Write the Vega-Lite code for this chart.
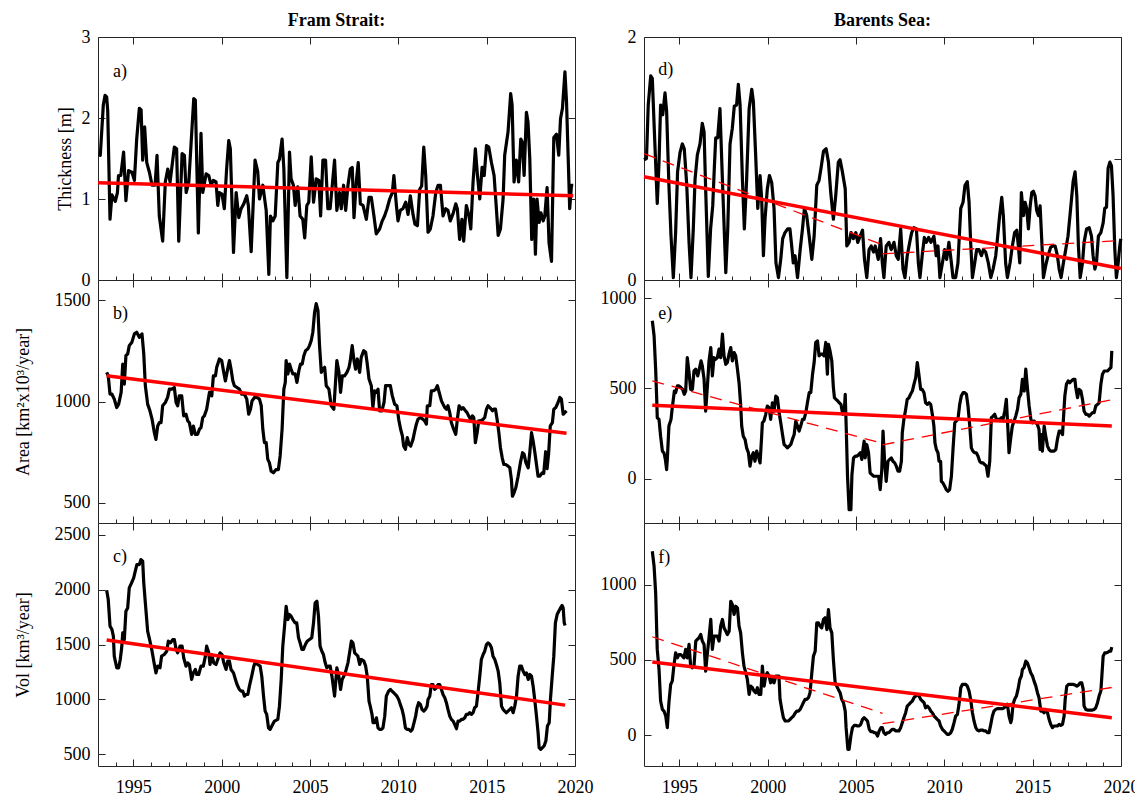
{
"$schema": "https://vega.github.io/schema/vega-lite/v6.json",
"background": "white",
"padding": {"left": 13, "top": 11, "right": 0, "bottom": 0},
"config": {
 "font": "Liberation Serif",
 "view": {"stroke": "#262626", "strokeWidth": 1},
 "axis": {"domain": false, "grid": false, "labelFont": "Liberation Serif", "titleFont": "Liberation Serif", "labelFontSize": 18, "titleFontSize": 18, "titleFontWeight": "normal", "labelColor": "#000", "titleColor": "#000", "tickColor": "#262626", "tickWidth": 1},
 "title": {"font": "Liberation Serif", "fontSize": 18, "fontWeight": "bold", "color": "#000", "offset": -2},
 "text": {"font": "Liberation Serif", "fontSize": 18, "color": "#000"}
},
"datasets": {
"a": [{"t":1993.04,"v":1.55},{"t":1993.13,"v":1.54},{"t":1993.3,"v":2.16},{"t":1993.4,"v":2.28},{"t":1993.49,"v":2.26},{"t":1993.55,"v":2.09},{"t":1993.68,"v":0.75},{"t":1993.79,"v":1.05},{"t":1993.98,"v":0.97},{"t":1994.1,"v":1.08},{"t":1994.16,"v":1.29},{"t":1994.29,"v":1.29},{"t":1994.45,"v":1.58},{"t":1994.58,"v":0.98},{"t":1994.73,"v":1.35},{"t":1994.92,"v":1.33},{"t":1995.06,"v":1.23},{"t":1995.19,"v":1.74},{"t":1995.34,"v":2.12},{"t":1995.44,"v":2.1},{"t":1995.53,"v":1.48},{"t":1995.64,"v":1.89},{"t":1995.76,"v":1.45},{"t":1995.91,"v":1.33},{"t":1996.06,"v":1.17},{"t":1996.23,"v":1.17},{"t":1996.34,"v":1.54},{"t":1996.47,"v":0.79},{"t":1996.66,"v":0.48},{"t":1996.81,"v":1.21},{"t":1996.95,"v":1.37},{"t":1997.08,"v":1.21},{"t":1997.32,"v":1.64},{"t":1997.45,"v":1.62},{"t":1997.57,"v":0.48},{"t":1997.76,"v":1.56},{"t":1997.89,"v":1.54},{"t":1997.99,"v":1.08},{"t":1998.14,"v":1.21},{"t":1998.42,"v":2.24},{"t":1998.51,"v":2.22},{"t":1998.68,"v":0.58},{"t":1998.83,"v":1.81},{"t":1998.93,"v":1.08},{"t":1999.12,"v":1.31},{"t":1999.27,"v":1.29},{"t":1999.4,"v":1.17},{"t":1999.53,"v":1.23},{"t":1999.68,"v":1.21},{"t":1999.78,"v":0.92},{"t":1999.87,"v":1.08},{"t":2000.02,"v":1.06},{"t":2000.15,"v":0.88},{"t":2000.28,"v":1.37},{"t":2000.4,"v":1.72},{"t":2000.49,"v":1.62},{"t":2000.67,"v":0.34},{"t":2000.82,"v":1.08},{"t":2000.97,"v":0.77},{"t":2001.1,"v":0.88},{"t":2001.25,"v":0.94},{"t":2001.42,"v":1.04},{"t":2001.51,"v":0.92},{"t":2001.67,"v":0.35},{"t":2001.89,"v":1.48},{"t":2002.04,"v":1.34},{"t":2002.14,"v":1.0},{"t":2002.33,"v":1.17},{"t":2002.52,"v":0.86},{"t":2002.67,"v":0.07},{"t":2002.76,"v":0.79},{"t":2002.9,"v":0.73},{"t":2003.03,"v":0.79},{"t":2003.18,"v":1.45},{"t":2003.27,"v":1.49},{"t":2003.42,"v":1.74},{"t":2003.52,"v":1.37},{"t":2003.69,"v":0.03},{"t":2003.84,"v":1.58},{"t":2003.93,"v":1.25},{"t":2004.06,"v":1.17},{"t":2004.16,"v":0.92},{"t":2004.31,"v":1.15},{"t":2004.44,"v":0.79},{"t":2004.59,"v":0.75},{"t":2004.7,"v":0.52},{"t":2004.82,"v":0.92},{"t":2004.93,"v":0.96},{"t":2005.07,"v":1.52},{"t":2005.2,"v":0.96},{"t":2005.35,"v":1.25},{"t":2005.5,"v":1.23},{"t":2005.6,"v":0.79},{"t":2005.73,"v":1.48},{"t":2005.88,"v":1.48},{"t":2006.01,"v":0.88},{"t":2006.14,"v":0.88},{"t":2006.39,"v":1.48},{"t":2006.52,"v":0.86},{"t":2006.67,"v":1.08},{"t":2006.77,"v":0.88},{"t":2006.9,"v":1.17},{"t":2007.02,"v":0.86},{"t":2007.15,"v":1.17},{"t":2007.28,"v":1.37},{"t":2007.39,"v":1.39},{"t":2007.49,"v":0.77},{"t":2007.62,"v":1.21},{"t":2007.73,"v":1.45},{"t":2007.85,"v":0.94},{"t":2008.0,"v":0.92},{"t":2008.19,"v":0.75},{"t":2008.34,"v":1.02},{"t":2008.47,"v":1.02},{"t":2008.62,"v":0.79},{"t":2008.75,"v":0.57},{"t":2008.94,"v":0.63},{"t":2009.09,"v":0.73},{"t":2009.22,"v":0.79},{"t":2009.36,"v":0.88},{"t":2009.51,"v":1.0},{"t":2009.66,"v":1.08},{"t":2009.75,"v":1.29},{"t":2009.89,"v":0.92},{"t":2009.98,"v":0.73},{"t":2010.11,"v":0.86},{"t":2010.26,"v":0.88},{"t":2010.42,"v":0.96},{"t":2010.55,"v":0.81},{"t":2010.68,"v":1.04},{"t":2010.83,"v":0.81},{"t":2010.94,"v":0.69},{"t":2011.08,"v":0.67},{"t":2011.21,"v":1.12},{"t":2011.32,"v":1.16},{"t":2011.44,"v":1.64},{"t":2011.55,"v":1.29},{"t":2011.68,"v":0.59},{"t":2011.81,"v":0.63},{"t":2011.96,"v":0.79},{"t":2012.12,"v":1.08},{"t":2012.25,"v":1.17},{"t":2012.38,"v":1.17},{"t":2012.53,"v":0.79},{"t":2012.68,"v":0.88},{"t":2012.81,"v":0.86},{"t":2012.94,"v":0.73},{"t":2013.1,"v":0.82},{"t":2013.25,"v":0.94},{"t":2013.34,"v":0.88},{"t":2013.47,"v":0.5},{"t":2013.6,"v":0.75},{"t":2013.7,"v":0.48},{"t":2013.85,"v":0.92},{"t":2014.0,"v":0.79},{"t":2014.1,"v":0.63},{"t":2014.23,"v":1.21},{"t":2014.36,"v":1.62},{"t":2014.48,"v":1.29},{"t":2014.61,"v":1.0},{"t":2014.74,"v":1.39},{"t":2014.86,"v":1.29},{"t":2014.99,"v":1.66},{"t":2015.12,"v":1.64},{"t":2015.27,"v":1.45},{"t":2015.42,"v":1.29},{"t":2015.55,"v":0.88},{"t":2015.65,"v":0.55},{"t":2015.78,"v":0.63},{"t":2015.93,"v":1.0},{"t":2016.02,"v":1.54},{"t":2016.21,"v":1.83},{"t":2016.36,"v":2.3},{"t":2016.44,"v":2.16},{"t":2016.55,"v":1.21},{"t":2016.68,"v":1.48},{"t":2016.81,"v":1.21},{"t":2016.93,"v":1.74},{"t":2017.02,"v":1.7},{"t":2017.12,"v":1.29},{"t":2017.25,"v":2.07},{"t":2017.34,"v":1.95},{"t":2017.44,"v":1.5},{"t":2017.55,"v":0.5},{"t":2017.66,"v":1.0},{"t":2017.76,"v":0.32},{"t":2017.85,"v":1.0},{"t":2017.97,"v":0.71},{"t":2018.07,"v":0.83},{"t":2018.2,"v":0.73},{"t":2018.29,"v":0.79},{"t":2018.42,"v":1.14},{"t":2018.53,"v":0.46},{"t":2018.67,"v":0.23},{"t":2018.8,"v":1.76},{"t":2018.95,"v":1.8},{"t":2019.08,"v":1.54},{"t":2019.18,"v":1.99},{"t":2019.29,"v":2.12},{"t":2019.43,"v":2.57},{"t":2019.52,"v":2.2},{"t":2019.61,"v":1.54},{"t":2019.7,"v":0.88},{"t":2019.8,"v":1.17},{"t":2019.9,"v":1.17}],
"b": [{"t":1993.49,"v":1144},{"t":1993.58,"v":1127},{"t":1993.68,"v":1036},{"t":1993.79,"v":1036},{"t":1993.92,"v":1012},{"t":1994.06,"v":970},{"t":1994.17,"v":987},{"t":1994.31,"v":1045},{"t":1994.4,"v":1185},{"t":1994.49,"v":1086},{"t":1994.58,"v":1226},{"t":1994.68,"v":1235},{"t":1994.77,"v":1276},{"t":1994.92,"v":1293},{"t":1995.06,"v":1334},{"t":1995.19,"v":1342},{"t":1995.34,"v":1317},{"t":1995.49,"v":1334},{"t":1995.59,"v":1235},{"t":1995.68,"v":1078},{"t":1995.81,"v":987},{"t":1995.94,"v":954},{"t":1996.06,"v":913},{"t":1996.19,"v":846},{"t":1996.28,"v":813},{"t":1996.38,"v":879},{"t":1996.47,"v":896},{"t":1996.57,"v":896},{"t":1996.66,"v":979},{"t":1996.81,"v":995},{"t":1996.94,"v":1020},{"t":1997.04,"v":1061},{"t":1997.17,"v":1061},{"t":1997.32,"v":1069},{"t":1997.42,"v":995},{"t":1997.51,"v":979},{"t":1997.6,"v":1028},{"t":1997.74,"v":1028},{"t":1997.85,"v":929},{"t":1997.98,"v":937},{"t":1998.08,"v":904},{"t":1998.17,"v":896},{"t":1998.3,"v":838},{"t":1998.4,"v":879},{"t":1998.51,"v":838},{"t":1998.64,"v":838},{"t":1998.74,"v":863},{"t":1998.83,"v":871},{"t":1998.93,"v":921},{"t":1999.02,"v":929},{"t":1999.15,"v":962},{"t":1999.31,"v":1045},{"t":1999.44,"v":1028},{"t":1999.53,"v":1127},{"t":1999.65,"v":1127},{"t":1999.72,"v":1169},{"t":1999.87,"v":1210},{"t":2000.0,"v":1202},{"t":2000.1,"v":1152},{"t":2000.21,"v":1102},{"t":2000.34,"v":1160},{"t":2000.44,"v":1202},{"t":2000.53,"v":1160},{"t":2000.63,"v":1102},{"t":2000.72,"v":1078},{"t":2000.87,"v":1069},{"t":2001.0,"v":1061},{"t":2001.14,"v":1036},{"t":2001.29,"v":1036},{"t":2001.42,"v":1012},{"t":2001.53,"v":937},{"t":2001.63,"v":962},{"t":2001.72,"v":1003},{"t":2001.86,"v":1020},{"t":2001.99,"v":1020},{"t":2002.14,"v":1012},{"t":2002.24,"v":979},{"t":2002.33,"v":863},{"t":2002.42,"v":797},{"t":2002.52,"v":797},{"t":2002.61,"v":714},{"t":2002.7,"v":698},{"t":2002.8,"v":656},{"t":2002.93,"v":648},{"t":2003.08,"v":664},{"t":2003.21,"v":664},{"t":2003.31,"v":731},{"t":2003.42,"v":863},{"t":2003.52,"v":1061},{"t":2003.6,"v":1094},{"t":2003.65,"v":1202},{"t":2003.75,"v":1136},{"t":2003.84,"v":1185},{"t":2003.93,"v":1160},{"t":2004.03,"v":1136},{"t":2004.16,"v":1136},{"t":2004.26,"v":1094},{"t":2004.37,"v":1152},{"t":2004.46,"v":1185},{"t":2004.56,"v":1185},{"t":2004.65,"v":1226},{"t":2004.75,"v":1251},{"t":2004.88,"v":1260},{"t":2004.97,"v":1276},{"t":2005.07,"v":1301},{"t":2005.16,"v":1342},{"t":2005.26,"v":1441},{"t":2005.35,"v":1483},{"t":2005.45,"v":1450},{"t":2005.54,"v":1276},{"t":2005.64,"v":1144},{"t":2005.73,"v":1160},{"t":2005.83,"v":1169},{"t":2005.92,"v":1078},{"t":2006.07,"v":1061},{"t":2006.2,"v":979},{"t":2006.35,"v":962},{"t":2006.52,"v":1202},{"t":2006.64,"v":1144},{"t":2006.73,"v":1045},{"t":2006.83,"v":1127},{"t":2006.96,"v":1127},{"t":2007.09,"v":1144},{"t":2007.21,"v":1169},{"t":2007.28,"v":1202},{"t":2007.39,"v":1276},{"t":2007.49,"v":1202},{"t":2007.58,"v":1160},{"t":2007.68,"v":1210},{"t":2007.81,"v":1144},{"t":2007.9,"v":1218},{"t":2008.04,"v":1251},{"t":2008.15,"v":1243},{"t":2008.23,"v":1193},{"t":2008.34,"v":1111},{"t":2008.47,"v":1078},{"t":2008.56,"v":970},{"t":2008.66,"v":1053},{"t":2008.75,"v":1045},{"t":2008.85,"v":1061},{"t":2008.94,"v":954},{"t":2009.07,"v":954},{"t":2009.19,"v":995},{"t":2009.28,"v":1078},{"t":2009.41,"v":1078},{"t":2009.55,"v":1078},{"t":2009.66,"v":1028},{"t":2009.79,"v":987},{"t":2009.92,"v":979},{"t":2010.02,"v":912},{"t":2010.13,"v":863},{"t":2010.23,"v":830},{"t":2010.3,"v":780},{"t":2010.4,"v":764},{"t":2010.51,"v":822},{"t":2010.6,"v":788},{"t":2010.7,"v":780},{"t":2010.83,"v":813},{"t":2010.93,"v":855},{"t":2011.02,"v":888},{"t":2011.11,"v":912},{"t":2011.25,"v":921},{"t":2011.4,"v":912},{"t":2011.49,"v":904},{"t":2011.59,"v":888},{"t":2011.64,"v":979},{"t":2011.78,"v":979},{"t":2011.87,"v":1053},{"t":2012.0,"v":1053},{"t":2012.12,"v":1061},{"t":2012.21,"v":1078},{"t":2012.34,"v":1036},{"t":2012.44,"v":1003},{"t":2012.53,"v":987},{"t":2012.63,"v":970},{"t":2012.72,"v":962},{"t":2012.81,"v":979},{"t":2012.91,"v":945},{"t":2013.0,"v":896},{"t":2013.13,"v":863},{"t":2013.25,"v":838},{"t":2013.34,"v":912},{"t":2013.44,"v":979},{"t":2013.57,"v":962},{"t":2013.66,"v":970},{"t":2013.8,"v":954},{"t":2013.89,"v":945},{"t":2013.98,"v":929},{"t":2014.08,"v":912},{"t":2014.19,"v":929},{"t":2014.27,"v":921},{"t":2014.36,"v":797},{"t":2014.46,"v":846},{"t":2014.55,"v":904},{"t":2014.65,"v":904},{"t":2014.8,"v":912},{"t":2014.89,"v":921},{"t":2014.99,"v":962},{"t":2015.08,"v":979},{"t":2015.18,"v":970},{"t":2015.33,"v":954},{"t":2015.4,"v":962},{"t":2015.5,"v":962},{"t":2015.59,"v":912},{"t":2015.69,"v":846},{"t":2015.78,"v":772},{"t":2015.88,"v":722},{"t":2015.97,"v":689},{"t":2016.08,"v":689},{"t":2016.21,"v":681},{"t":2016.31,"v":673},{"t":2016.4,"v":615},{"t":2016.46,"v":532},{"t":2016.55,"v":549},{"t":2016.65,"v":574},{"t":2016.78,"v":631},{"t":2016.91,"v":698},{"t":2017.03,"v":747},{"t":2017.12,"v":739},{"t":2017.22,"v":698},{"t":2017.35,"v":673},{"t":2017.44,"v":747},{"t":2017.54,"v":846},{"t":2017.63,"v":805},{"t":2017.73,"v":747},{"t":2017.82,"v":689},{"t":2017.91,"v":631},{"t":2018.01,"v":631},{"t":2018.14,"v":648},{"t":2018.23,"v":645},{"t":2018.34,"v":752},{"t":2018.42,"v":668},{"t":2018.51,"v":747},{"t":2018.6,"v":879},{"t":2018.72,"v":896},{"t":2018.8,"v":962},{"t":2018.91,"v":970},{"t":2019.04,"v":995},{"t":2019.14,"v":1020},{"t":2019.23,"v":1012},{"t":2019.33,"v":937},{"t":2019.42,"v":945},{"t":2019.52,"v":954}],
"c": [{"t":1993.49,"v":1994},{"t":1993.58,"v":1909},{"t":1993.68,"v":1667},{"t":1993.79,"v":1636},{"t":1993.87,"v":1576},{"t":1993.92,"v":1394},{"t":1994.06,"v":1288},{"t":1994.17,"v":1288},{"t":1994.26,"v":1364},{"t":1994.34,"v":1470},{"t":1994.4,"v":1606},{"t":1994.49,"v":1545},{"t":1994.58,"v":1803},{"t":1994.68,"v":1833},{"t":1994.77,"v":2015},{"t":1994.9,"v":2061},{"t":1995.02,"v":2106},{"t":1995.11,"v":2167},{"t":1995.2,"v":2227},{"t":1995.34,"v":2227},{"t":1995.43,"v":2273},{"t":1995.53,"v":2258},{"t":1995.59,"v":2061},{"t":1995.68,"v":1879},{"t":1995.81,"v":1621},{"t":1995.94,"v":1530},{"t":1996.06,"v":1439},{"t":1996.19,"v":1318},{"t":1996.28,"v":1242},{"t":1996.38,"v":1303},{"t":1996.51,"v":1288},{"t":1996.6,"v":1394},{"t":1996.75,"v":1409},{"t":1996.89,"v":1439},{"t":1996.98,"v":1530},{"t":1997.1,"v":1515},{"t":1997.23,"v":1545},{"t":1997.32,"v":1545},{"t":1997.42,"v":1455},{"t":1997.51,"v":1424},{"t":1997.64,"v":1485},{"t":1997.76,"v":1485},{"t":1997.85,"v":1379},{"t":1997.98,"v":1303},{"t":1998.08,"v":1333},{"t":1998.17,"v":1318},{"t":1998.3,"v":1182},{"t":1998.4,"v":1242},{"t":1998.51,"v":1273},{"t":1998.59,"v":1227},{"t":1998.7,"v":1227},{"t":1998.83,"v":1303},{"t":1998.96,"v":1303},{"t":1999.08,"v":1394},{"t":1999.15,"v":1485},{"t":1999.27,"v":1424},{"t":1999.34,"v":1318},{"t":1999.44,"v":1409},{"t":1999.55,"v":1333},{"t":1999.68,"v":1318},{"t":1999.78,"v":1364},{"t":1999.91,"v":1424},{"t":2000.02,"v":1409},{"t":2000.12,"v":1333},{"t":2000.25,"v":1273},{"t":2000.34,"v":1348},{"t":2000.44,"v":1348},{"t":2000.53,"v":1273},{"t":2000.67,"v":1242},{"t":2000.78,"v":1182},{"t":2000.87,"v":1136},{"t":2001.0,"v":1091},{"t":2001.1,"v":1076},{"t":2001.19,"v":1076},{"t":2001.29,"v":1030},{"t":2001.38,"v":1045},{"t":2001.48,"v":1045},{"t":2001.57,"v":1121},{"t":2001.7,"v":1212},{"t":2001.82,"v":1303},{"t":2001.89,"v":1333},{"t":2002.04,"v":1318},{"t":2002.18,"v":1303},{"t":2002.27,"v":1212},{"t":2002.37,"v":1030},{"t":2002.46,"v":894},{"t":2002.55,"v":864},{"t":2002.65,"v":742},{"t":2002.74,"v":727},{"t":2002.84,"v":758},{"t":2002.99,"v":803},{"t":2003.18,"v":818},{"t":2003.27,"v":939},{"t":2003.37,"v":1182},{"t":2003.46,"v":1485},{"t":2003.56,"v":1667},{"t":2003.65,"v":1848},{"t":2003.75,"v":1727},{"t":2003.84,"v":1773},{"t":2003.93,"v":1758},{"t":2004.03,"v":1727},{"t":2004.16,"v":1697},{"t":2004.25,"v":1697},{"t":2004.35,"v":1561},{"t":2004.44,"v":1515},{"t":2004.54,"v":1455},{"t":2004.63,"v":1455},{"t":2004.74,"v":1500},{"t":2004.84,"v":1530},{"t":2004.97,"v":1545},{"t":2005.1,"v":1561},{"t":2005.2,"v":1697},{"t":2005.29,"v":1879},{"t":2005.39,"v":1894},{"t":2005.48,"v":1758},{"t":2005.57,"v":1485},{"t":2005.67,"v":1439},{"t":2005.76,"v":1409},{"t":2005.86,"v":1333},{"t":2005.95,"v":1288},{"t":2006.05,"v":1303},{"t":2006.14,"v":1303},{"t":2006.24,"v":1212},{"t":2006.39,"v":1030},{"t":2006.52,"v":1288},{"t":2006.63,"v":1212},{"t":2006.73,"v":1091},{"t":2006.82,"v":1182},{"t":2006.96,"v":1227},{"t":2007.05,"v":1273},{"t":2007.15,"v":1333},{"t":2007.24,"v":1424},{"t":2007.34,"v":1530},{"t":2007.43,"v":1515},{"t":2007.53,"v":1424},{"t":2007.62,"v":1409},{"t":2007.71,"v":1394},{"t":2007.81,"v":1318},{"t":2007.9,"v":1364},{"t":2008.05,"v":1348},{"t":2008.15,"v":1303},{"t":2008.24,"v":1212},{"t":2008.34,"v":985},{"t":2008.41,"v":939},{"t":2008.51,"v":864},{"t":2008.57,"v":788},{"t":2008.66,"v":788},{"t":2008.76,"v":833},{"t":2008.85,"v":742},{"t":2008.94,"v":727},{"t":2009.04,"v":727},{"t":2009.13,"v":742},{"t":2009.23,"v":848},{"t":2009.32,"v":1030},{"t":2009.45,"v":1076},{"t":2009.55,"v":1091},{"t":2009.64,"v":1076},{"t":2009.74,"v":1061},{"t":2009.83,"v":1045},{"t":2009.92,"v":1030},{"t":2010.02,"v":1000},{"t":2010.11,"v":955},{"t":2010.21,"v":909},{"t":2010.3,"v":848},{"t":2010.4,"v":742},{"t":2010.49,"v":727},{"t":2010.6,"v":727},{"t":2010.7,"v":712},{"t":2010.79,"v":727},{"t":2010.89,"v":788},{"t":2010.98,"v":848},{"t":2011.06,"v":924},{"t":2011.15,"v":970},{"t":2011.25,"v":955},{"t":2011.34,"v":909},{"t":2011.44,"v":894},{"t":2011.53,"v":909},{"t":2011.63,"v":939},{"t":2011.68,"v":1000},{"t":2011.78,"v":1030},{"t":2011.87,"v":1136},{"t":2011.96,"v":1136},{"t":2012.06,"v":1091},{"t":2012.16,"v":1106},{"t":2012.25,"v":1136},{"t":2012.34,"v":1136},{"t":2012.44,"v":1091},{"t":2012.53,"v":1045},{"t":2012.63,"v":1015},{"t":2012.72,"v":970},{"t":2012.81,"v":909},{"t":2012.91,"v":848},{"t":2013.0,"v":818},{"t":2013.1,"v":803},{"t":2013.19,"v":773},{"t":2013.29,"v":733},{"t":2013.38,"v":803},{"t":2013.48,"v":803},{"t":2013.57,"v":818},{"t":2013.66,"v":818},{"t":2013.76,"v":833},{"t":2013.85,"v":864},{"t":2013.95,"v":864},{"t":2014.04,"v":879},{"t":2014.14,"v":864},{"t":2014.23,"v":879},{"t":2014.32,"v":924},{"t":2014.42,"v":939},{"t":2014.51,"v":1061},{"t":2014.61,"v":1212},{"t":2014.7,"v":1364},{"t":2014.8,"v":1409},{"t":2014.89,"v":1439},{"t":2014.99,"v":1500},{"t":2015.08,"v":1515},{"t":2015.18,"v":1500},{"t":2015.27,"v":1470},{"t":2015.36,"v":1394},{"t":2015.46,"v":1364},{"t":2015.55,"v":1318},{"t":2015.65,"v":1258},{"t":2015.74,"v":1152},{"t":2015.84,"v":939},{"t":2015.93,"v":909},{"t":2016.02,"v":894},{"t":2016.12,"v":879},{"t":2016.21,"v":894},{"t":2016.31,"v":909},{"t":2016.4,"v":924},{"t":2016.5,"v":879},{"t":2016.59,"v":939},{"t":2016.69,"v":1030},{"t":2016.78,"v":1212},{"t":2016.87,"v":1303},{"t":2016.97,"v":1303},{"t":2017.06,"v":1258},{"t":2017.16,"v":1227},{"t":2017.25,"v":1242},{"t":2017.35,"v":1182},{"t":2017.44,"v":1227},{"t":2017.54,"v":1212},{"t":2017.63,"v":1121},{"t":2017.73,"v":985},{"t":2017.82,"v":848},{"t":2017.91,"v":697},{"t":2017.97,"v":561},{"t":2018.06,"v":545},{"t":2018.16,"v":561},{"t":2018.25,"v":576},{"t":2018.35,"v":621},{"t":2018.44,"v":758},{"t":2018.54,"v":788},{"t":2018.61,"v":1000},{"t":2018.71,"v":1212},{"t":2018.8,"v":1394},{"t":2018.89,"v":1697},{"t":2018.99,"v":1773},{"t":2019.08,"v":1803},{"t":2019.18,"v":1833},{"t":2019.27,"v":1855},{"t":2019.33,"v":1833},{"t":2019.39,"v":1697},{"t":2019.44,"v":1673}],
"d": [{"t":1993.0,"v":0.99},{"t":1993.14,"v":1.0},{"t":1993.24,"v":1.44},{"t":1993.38,"v":1.68},{"t":1993.47,"v":1.66},{"t":1993.58,"v":1.25},{"t":1993.75,"v":0.63},{"t":1993.85,"v":0.97},{"t":1993.94,"v":1.44},{"t":1994.06,"v":1.36},{"t":1994.19,"v":1.54},{"t":1994.28,"v":1.39},{"t":1994.41,"v":0.78},{"t":1994.53,"v":0.36},{"t":1994.66,"v":0.02},{"t":1994.79,"v":0.39},{"t":1994.9,"v":0.89},{"t":1995.04,"v":1.05},{"t":1995.17,"v":1.12},{"t":1995.28,"v":1.08},{"t":1995.42,"v":0.78},{"t":1995.55,"v":0.31},{"t":1995.66,"v":0.02},{"t":1995.79,"v":0.42},{"t":1995.89,"v":0.83},{"t":1996.02,"v":1.03},{"t":1996.17,"v":1.12},{"t":1996.3,"v":1.29},{"t":1996.4,"v":1.22},{"t":1996.49,"v":0.75},{"t":1996.64,"v":0.03},{"t":1996.77,"v":0.42},{"t":1996.89,"v":0.61},{"t":1996.98,"v":0.92},{"t":1997.06,"v":1.17},{"t":1997.17,"v":1.17},{"t":1997.3,"v":1.41},{"t":1997.43,"v":0.86},{"t":1997.63,"v":0.06},{"t":1997.74,"v":0.42},{"t":1997.87,"v":1.12},{"t":1998.0,"v":1.25},{"t":1998.11,"v":1.43},{"t":1998.24,"v":1.44},{"t":1998.34,"v":1.61},{"t":1998.44,"v":1.44},{"t":1998.57,"v":0.83},{"t":1998.68,"v":0.42},{"t":1998.81,"v":0.83},{"t":1998.95,"v":1.41},{"t":1999.1,"v":1.57},{"t":1999.19,"v":1.47},{"t":1999.32,"v":1.03},{"t":1999.44,"v":0.59},{"t":1999.57,"v":0.86},{"t":1999.66,"v":0.67},{"t":1999.76,"v":0.2},{"t":1999.85,"v":0.5},{"t":1999.98,"v":0.75},{"t":2000.1,"v":0.86},{"t":2000.23,"v":0.8},{"t":2000.36,"v":0.59},{"t":2000.47,"v":0.14},{"t":2000.61,"v":0.02},{"t":2000.74,"v":0.17},{"t":2000.85,"v":0.34},{"t":2000.98,"v":0.39},{"t":2001.13,"v":0.42},{"t":2001.26,"v":0.42},{"t":2001.36,"v":0.28},{"t":2001.45,"v":0.14},{"t":2001.55,"v":0.2},{"t":2001.69,"v":0.02},{"t":2001.84,"v":0.25},{"t":2001.97,"v":0.42},{"t":2002.08,"v":0.59},{"t":2002.21,"v":0.53},{"t":2002.35,"v":0.36},{"t":2002.5,"v":0.17},{"t":2002.63,"v":0.36},{"t":2002.78,"v":0.78},{"t":2002.91,"v":0.82},{"t":2003.02,"v":0.92},{"t":2003.16,"v":1.06},{"t":2003.31,"v":1.08},{"t":2003.44,"v":0.97},{"t":2003.57,"v":0.72},{"t":2003.72,"v":0.5},{"t":2003.85,"v":0.69},{"t":2004.0,"v":0.97},{"t":2004.1,"v":0.99},{"t":2004.23,"v":0.89},{"t":2004.39,"v":0.75},{"t":2004.48,"v":0.28},{"t":2004.61,"v":0.31},{"t":2004.72,"v":0.39},{"t":2004.85,"v":0.34},{"t":2004.99,"v":0.39},{"t":2005.1,"v":0.31},{"t":2005.23,"v":0.36},{"t":2005.37,"v":0.41},{"t":2005.48,"v":0.17},{"t":2005.61,"v":0.02},{"t":2005.74,"v":0.25},{"t":2005.86,"v":0.28},{"t":2005.99,"v":0.23},{"t":2006.09,"v":0.28},{"t":2006.26,"v":0.17},{"t":2006.39,"v":0.34},{"t":2006.49,"v":0.14},{"t":2006.58,"v":0.02},{"t":2006.71,"v":0.28},{"t":2006.86,"v":0.31},{"t":2006.99,"v":0.25},{"t":2007.15,"v":0.31},{"t":2007.28,"v":0.2},{"t":2007.39,"v":0.17},{"t":2007.53,"v":0.42},{"t":2007.66,"v":0.09},{"t":2007.77,"v":0.02},{"t":2007.9,"v":0.2},{"t":2008.04,"v":0.31},{"t":2008.15,"v":0.39},{"t":2008.28,"v":0.43},{"t":2008.42,"v":0.42},{"t":2008.53,"v":0.14},{"t":2008.62,"v":0.02},{"t":2008.76,"v":0.22},{"t":2008.87,"v":0.35},{"t":2008.98,"v":0.31},{"t":2009.11,"v":0.35},{"t":2009.24,"v":0.31},{"t":2009.41,"v":0.36},{"t":2009.54,"v":0.2},{"t":2009.64,"v":0.28},{"t":2009.75,"v":0.02},{"t":2009.89,"v":0.14},{"t":2010.02,"v":0.25},{"t":2010.13,"v":0.17},{"t":2010.26,"v":0.31},{"t":2010.4,"v":0.14},{"t":2010.49,"v":0.02},{"t":2010.64,"v":0.02},{"t":2010.77,"v":0.14},{"t":2010.93,"v":0.59},{"t":2011.06,"v":0.64},{"t":2011.17,"v":0.78},{"t":2011.3,"v":0.81},{"t":2011.4,"v":0.64},{"t":2011.49,"v":0.31},{"t":2011.59,"v":0.02},{"t":2011.72,"v":0.14},{"t":2011.83,"v":0.25},{"t":2011.96,"v":0.25},{"t":2012.1,"v":0.2},{"t":2012.21,"v":0.25},{"t":2012.34,"v":0.23},{"t":2012.49,"v":0.14},{"t":2012.63,"v":0.02},{"t":2012.76,"v":0.09},{"t":2012.91,"v":0.2},{"t":2013.04,"v":0.39},{"t":2013.13,"v":0.53},{"t":2013.25,"v":0.68},{"t":2013.34,"v":0.53},{"t":2013.47,"v":0.14},{"t":2013.57,"v":0.02},{"t":2013.72,"v":0.14},{"t":2013.85,"v":0.28},{"t":2013.98,"v":0.39},{"t":2014.1,"v":0.41},{"t":2014.19,"v":0.28},{"t":2014.27,"v":0.14},{"t":2014.36,"v":0.72},{"t":2014.48,"v":0.53},{"t":2014.57,"v":0.64},{"t":2014.66,"v":0.59},{"t":2014.76,"v":0.42},{"t":2014.86,"v":0.61},{"t":2014.95,"v":0.72},{"t":2015.04,"v":0.73},{"t":2015.14,"v":0.69},{"t":2015.23,"v":0.57},{"t":2015.33,"v":0.53},{"t":2015.42,"v":0.61},{"t":2015.51,"v":0.34},{"t":2015.61,"v":0.02},{"t":2015.74,"v":0.12},{"t":2015.87,"v":0.2},{"t":2016.02,"v":0.27},{"t":2016.15,"v":0.28},{"t":2016.27,"v":0.28},{"t":2016.4,"v":0.2},{"t":2016.5,"v":0.09},{"t":2016.61,"v":0.02},{"t":2016.74,"v":0.14},{"t":2016.87,"v":0.25},{"t":2017.0,"v":0.36},{"t":2017.15,"v":0.59},{"t":2017.29,"v":0.81},{"t":2017.4,"v":0.89},{"t":2017.5,"v":0.69},{"t":2017.59,"v":0.28},{"t":2017.69,"v":0.02},{"t":2017.82,"v":0.14},{"t":2017.91,"v":0.31},{"t":2018.05,"v":0.42},{"t":2018.2,"v":0.43},{"t":2018.33,"v":0.36},{"t":2018.42,"v":0.2},{"t":2018.52,"v":0.09},{"t":2018.61,"v":0.14},{"t":2018.72,"v":0.36},{"t":2018.86,"v":0.39},{"t":2018.99,"v":0.47},{"t":2019.08,"v":0.59},{"t":2019.18,"v":0.6},{"t":2019.27,"v":0.92},{"t":2019.37,"v":0.97},{"t":2019.46,"v":0.94},{"t":2019.55,"v":0.7},{"t":2019.65,"v":0.25},{"t":2019.74,"v":0.02},{"t":2019.84,"v":0.14},{"t":2019.93,"v":0.28},{"t":2019.99,"v":0.34}],
"e": [{"t":1993.47,"v":874},{"t":1993.57,"v":791},{"t":1993.66,"v":606},{"t":1993.72,"v":439},{"t":1993.75,"v":337},{"t":1993.85,"v":328},{"t":1993.94,"v":235},{"t":1994.04,"v":152},{"t":1994.13,"v":143},{"t":1994.21,"v":106},{"t":1994.28,"v":50},{"t":1994.32,"v":106},{"t":1994.41,"v":291},{"t":1994.53,"v":328},{"t":1994.6,"v":393},{"t":1994.72,"v":485},{"t":1994.79,"v":476},{"t":1994.89,"v":513},{"t":1994.98,"v":513},{"t":1995.09,"v":504},{"t":1995.19,"v":494},{"t":1995.28,"v":467},{"t":1995.36,"v":485},{"t":1995.45,"v":670},{"t":1995.55,"v":587},{"t":1995.64,"v":494},{"t":1995.74,"v":494},{"t":1995.83,"v":596},{"t":1995.93,"v":606},{"t":1996.04,"v":569},{"t":1996.13,"v":606},{"t":1996.23,"v":652},{"t":1996.3,"v":624},{"t":1996.4,"v":550},{"t":1996.49,"v":374},{"t":1996.59,"v":513},{"t":1996.68,"v":652},{"t":1996.78,"v":726},{"t":1996.87,"v":569},{"t":1996.96,"v":670},{"t":1997.06,"v":661},{"t":1997.15,"v":670},{"t":1997.25,"v":717},{"t":1997.34,"v":670},{"t":1997.44,"v":800},{"t":1997.53,"v":680},{"t":1997.63,"v":633},{"t":1997.72,"v":643},{"t":1997.81,"v":689},{"t":1997.91,"v":726},{"t":1998.0,"v":652},{"t":1998.1,"v":698},{"t":1998.19,"v":680},{"t":1998.29,"v":606},{"t":1998.38,"v":531},{"t":1998.47,"v":411},{"t":1998.53,"v":291},{"t":1998.62,"v":235},{"t":1998.72,"v":217},{"t":1998.81,"v":170},{"t":1998.91,"v":143},{"t":1999.0,"v":69},{"t":1999.1,"v":124},{"t":1999.19,"v":143},{"t":1999.28,"v":96},{"t":1999.38,"v":152},{"t":1999.47,"v":124},{"t":1999.57,"v":87},{"t":1999.66,"v":235},{"t":1999.7,"v":309},{"t":1999.79,"v":319},{"t":1999.89,"v":356},{"t":1999.98,"v":402},{"t":2000.08,"v":393},{"t":2000.17,"v":328},{"t":2000.27,"v":420},{"t":2000.36,"v":374},{"t":2000.46,"v":457},{"t":2000.55,"v":448},{"t":2000.65,"v":365},{"t":2000.74,"v":309},{"t":2000.84,"v":244},{"t":2000.93,"v":189},{"t":2001.03,"v":180},{"t":2001.12,"v":170},{"t":2001.22,"v":180},{"t":2001.31,"v":189},{"t":2001.4,"v":217},{"t":2001.5,"v":244},{"t":2001.59,"v":318},{"t":2001.69,"v":291},{"t":2001.78,"v":263},{"t":2001.87,"v":291},{"t":2001.97,"v":328},{"t":2002.06,"v":328},{"t":2002.16,"v":365},{"t":2002.25,"v":420},{"t":2002.35,"v":476},{"t":2002.44,"v":476},{"t":2002.54,"v":578},{"t":2002.63,"v":643},{"t":2002.72,"v":754},{"t":2002.82,"v":763},{"t":2002.91,"v":680},{"t":2003.0,"v":689},{"t":2003.1,"v":689},{"t":2003.19,"v":680},{"t":2003.29,"v":754},{"t":2003.38,"v":578},{"t":2003.44,"v":744},{"t":2003.53,"v":707},{"t":2003.63,"v":652},{"t":2003.72,"v":504},{"t":2003.78,"v":448},{"t":2003.87,"v":439},{"t":2003.97,"v":430},{"t":2004.05,"v":420},{"t":2004.15,"v":411},{"t":2004.25,"v":356},{"t":2004.34,"v":374},{"t":2004.39,"v":467},{"t":2004.45,"v":272},{"t":2004.52,"v":13},{"t":2004.61,"v":-172},{"t":2004.71,"v":-172},{"t":2004.77,"v":22},{"t":2004.86,"v":115},{"t":2004.96,"v":124},{"t":2005.05,"v":124},{"t":2005.15,"v":133},{"t":2005.24,"v":143},{"t":2005.33,"v":106},{"t":2005.37,"v":143},{"t":2005.46,"v":207},{"t":2005.52,"v":115},{"t":2005.61,"v":189},{"t":2005.71,"v":143},{"t":2005.8,"v":31},{"t":2005.9,"v":22},{"t":2005.99,"v":13},{"t":2006.09,"v":13},{"t":2006.18,"v":13},{"t":2006.28,"v":13},{"t":2006.37,"v":-61},{"t":2006.46,"v":50},{"t":2006.53,"v":263},{"t":2006.62,"v":96},{"t":2006.71,"v":-15},{"t":2006.81,"v":96},{"t":2006.9,"v":106},{"t":2007.0,"v":115},{"t":2007.09,"v":96},{"t":2007.19,"v":87},{"t":2007.28,"v":69},{"t":2007.38,"v":41},{"t":2007.47,"v":41},{"t":2007.57,"v":96},{"t":2007.62,"v":254},{"t":2007.71,"v":328},{"t":2007.81,"v":383},{"t":2007.9,"v":439},{"t":2008.0,"v":448},{"t":2008.09,"v":467},{"t":2008.19,"v":485},{"t":2008.28,"v":522},{"t":2008.38,"v":559},{"t":2008.47,"v":643},{"t":2008.57,"v":569},{"t":2008.66,"v":494},{"t":2008.75,"v":494},{"t":2008.85,"v":476},{"t":2008.94,"v":420},{"t":2009.04,"v":411},{"t":2009.13,"v":420},{"t":2009.23,"v":411},{"t":2009.32,"v":356},{"t":2009.41,"v":291},{"t":2009.47,"v":198},{"t":2009.55,"v":161},{"t":2009.64,"v":143},{"t":2009.7,"v":96},{"t":2009.79,"v":96},{"t":2009.83,"v":-15},{"t":2009.92,"v":-24},{"t":2010.02,"v":-43},{"t":2010.11,"v":-61},{"t":2010.21,"v":-70},{"t":2010.3,"v":-61},{"t":2010.4,"v":13},{"t":2010.49,"v":161},{"t":2010.59,"v":309},{"t":2010.68,"v":319},{"t":2010.77,"v":328},{"t":2010.87,"v":411},{"t":2010.96,"v":457},{"t":2011.06,"v":476},{"t":2011.15,"v":476},{"t":2011.25,"v":467},{"t":2011.34,"v":402},{"t":2011.44,"v":291},{"t":2011.53,"v":170},{"t":2011.62,"v":152},{"t":2011.72,"v":143},{"t":2011.81,"v":143},{"t":2011.91,"v":124},{"t":2012.0,"v":96},{"t":2012.09,"v":87},{"t":2012.19,"v":87},{"t":2012.28,"v":78},{"t":2012.38,"v":69},{"t":2012.47,"v":13},{"t":2012.57,"v":96},{"t":2012.66,"v":337},{"t":2012.76,"v":346},{"t":2012.85,"v":356},{"t":2012.95,"v":328},{"t":2013.04,"v":328},{"t":2013.13,"v":328},{"t":2013.23,"v":337},{"t":2013.32,"v":328},{"t":2013.42,"v":374},{"t":2013.51,"v":439},{"t":2013.6,"v":272},{"t":2013.66,"v":143},{"t":2013.76,"v":226},{"t":2013.85,"v":291},{"t":2013.95,"v":319},{"t":2014.04,"v":346},{"t":2014.14,"v":383},{"t":2014.23,"v":448},{"t":2014.33,"v":467},{"t":2014.42,"v":550},{"t":2014.52,"v":485},{"t":2014.61,"v":606},{"t":2014.71,"v":494},{"t":2014.8,"v":402},{"t":2014.9,"v":328},{"t":2014.99,"v":309},{"t":2015.08,"v":319},{"t":2015.18,"v":309},{"t":2015.27,"v":300},{"t":2015.36,"v":272},{"t":2015.42,"v":161},{"t":2015.5,"v":244},{"t":2015.55,"v":152},{"t":2015.65,"v":291},{"t":2015.74,"v":235},{"t":2015.84,"v":180},{"t":2015.93,"v":161},{"t":2016.02,"v":152},{"t":2016.12,"v":152},{"t":2016.21,"v":152},{"t":2016.31,"v":161},{"t":2016.4,"v":217},{"t":2016.5,"v":263},{"t":2016.59,"v":263},{"t":2016.69,"v":244},{"t":2016.74,"v":328},{"t":2016.82,"v":457},{"t":2016.91,"v":522},{"t":2017.01,"v":541},{"t":2017.1,"v":531},{"t":2017.2,"v":541},{"t":2017.29,"v":550},{"t":2017.39,"v":550},{"t":2017.44,"v":504},{"t":2017.54,"v":448},{"t":2017.63,"v":494},{"t":2017.73,"v":485},{"t":2017.82,"v":439},{"t":2017.91,"v":374},{"t":2018.01,"v":356},{"t":2018.1,"v":356},{"t":2018.2,"v":346},{"t":2018.29,"v":356},{"t":2018.39,"v":365},{"t":2018.48,"v":365},{"t":2018.57,"v":402},{"t":2018.67,"v":411},{"t":2018.76,"v":420},{"t":2018.86,"v":522},{"t":2018.95,"v":578},{"t":2019.05,"v":596},{"t":2019.14,"v":596},{"t":2019.24,"v":596},{"t":2019.33,"v":606},{"t":2019.43,"v":615},{"t":2019.48,"v":707}],
"f": [{"t":1993.47,"v":1221},{"t":1993.57,"v":1122},{"t":1993.66,"v":945},{"t":1993.75,"v":569},{"t":1993.85,"v":436},{"t":1993.94,"v":226},{"t":1994.04,"v":170},{"t":1994.13,"v":159},{"t":1994.23,"v":126},{"t":1994.32,"v":49},{"t":1994.41,"v":215},{"t":1994.51,"v":336},{"t":1994.6,"v":358},{"t":1994.7,"v":469},{"t":1994.79,"v":546},{"t":1994.89,"v":513},{"t":1994.98,"v":535},{"t":1995.08,"v":535},{"t":1995.17,"v":524},{"t":1995.26,"v":513},{"t":1995.36,"v":569},{"t":1995.45,"v":513},{"t":1995.55,"v":602},{"t":1995.64,"v":458},{"t":1995.74,"v":447},{"t":1995.83,"v":458},{"t":1995.93,"v":624},{"t":1996.02,"v":635},{"t":1996.11,"v":646},{"t":1996.21,"v":668},{"t":1996.3,"v":624},{"t":1996.4,"v":602},{"t":1996.49,"v":425},{"t":1996.59,"v":546},{"t":1996.68,"v":646},{"t":1996.78,"v":768},{"t":1996.87,"v":569},{"t":1996.96,"v":657},{"t":1997.06,"v":657},{"t":1997.15,"v":657},{"t":1997.25,"v":624},{"t":1997.34,"v":723},{"t":1997.44,"v":768},{"t":1997.53,"v":712},{"t":1997.63,"v":690},{"t":1997.72,"v":668},{"t":1997.82,"v":690},{"t":1997.91,"v":889},{"t":1998.0,"v":867},{"t":1998.1,"v":801},{"t":1998.19,"v":856},{"t":1998.29,"v":845},{"t":1998.38,"v":723},{"t":1998.47,"v":679},{"t":1998.57,"v":546},{"t":1998.66,"v":458},{"t":1998.76,"v":414},{"t":1998.85,"v":369},{"t":1998.95,"v":270},{"t":1999.04,"v":325},{"t":1999.14,"v":314},{"t":1999.23,"v":292},{"t":1999.33,"v":281},{"t":1999.42,"v":314},{"t":1999.51,"v":270},{"t":1999.61,"v":270},{"t":1999.7,"v":458},{"t":1999.8,"v":325},{"t":1999.89,"v":392},{"t":1999.98,"v":414},{"t":2000.08,"v":392},{"t":2000.17,"v":347},{"t":2000.27,"v":369},{"t":2000.36,"v":347},{"t":2000.46,"v":392},{"t":2000.55,"v":392},{"t":2000.64,"v":392},{"t":2000.7,"v":237},{"t":2000.8,"v":170},{"t":2000.89,"v":115},{"t":2000.99,"v":93},{"t":2001.08,"v":93},{"t":2001.18,"v":93},{"t":2001.27,"v":104},{"t":2001.36,"v":115},{"t":2001.46,"v":126},{"t":2001.55,"v":144},{"t":2001.65,"v":159},{"t":2001.74,"v":159},{"t":2001.84,"v":170},{"t":2001.93,"v":192},{"t":2002.02,"v":215},{"t":2002.12,"v":237},{"t":2002.21,"v":237},{"t":2002.31,"v":248},{"t":2002.4,"v":281},{"t":2002.5,"v":414},{"t":2002.59,"v":524},{"t":2002.69,"v":557},{"t":2002.78,"v":746},{"t":2002.87,"v":746},{"t":2002.97,"v":723},{"t":2003.06,"v":712},{"t":2003.16,"v":768},{"t":2003.25,"v":779},{"t":2003.35,"v":701},{"t":2003.44,"v":834},{"t":2003.53,"v":712},{"t":2003.63,"v":679},{"t":2003.72,"v":502},{"t":2003.82,"v":347},{"t":2003.91,"v":325},{"t":2004.0,"v":303},{"t":2004.1,"v":281},{"t":2004.19,"v":237},{"t":2004.29,"v":215},{"t":2004.39,"v":159},{"t":2004.44,"v":49},{"t":2004.54,"v":-95},{"t":2004.61,"v":-95},{"t":2004.71,"v":-7},{"t":2004.8,"v":49},{"t":2004.9,"v":64},{"t":2004.99,"v":64},{"t":2005.09,"v":60},{"t":2005.18,"v":60},{"t":2005.27,"v":71},{"t":2005.37,"v":104},{"t":2005.46,"v":115},{"t":2005.56,"v":104},{"t":2005.65,"v":93},{"t":2005.75,"v":38},{"t":2005.84,"v":22},{"t":2005.93,"v":22},{"t":2006.03,"v":15},{"t":2006.12,"v":15},{"t":2006.22,"v":-7},{"t":2006.31,"v":27},{"t":2006.41,"v":49},{"t":2006.49,"v":49},{"t":2006.58,"v":15},{"t":2006.67,"v":4},{"t":2006.77,"v":15},{"t":2006.86,"v":15},{"t":2006.96,"v":27},{"t":2007.05,"v":38},{"t":2007.15,"v":38},{"t":2007.24,"v":27},{"t":2007.34,"v":27},{"t":2007.43,"v":27},{"t":2007.53,"v":49},{"t":2007.62,"v":82},{"t":2007.71,"v":115},{"t":2007.81,"v":148},{"t":2007.9,"v":192},{"t":2008.0,"v":204},{"t":2008.09,"v":215},{"t":2008.19,"v":226},{"t":2008.28,"v":248},{"t":2008.38,"v":259},{"t":2008.47,"v":270},{"t":2008.57,"v":259},{"t":2008.66,"v":237},{"t":2008.75,"v":226},{"t":2008.85,"v":215},{"t":2008.94,"v":181},{"t":2009.04,"v":192},{"t":2009.13,"v":181},{"t":2009.23,"v":159},{"t":2009.32,"v":148},{"t":2009.42,"v":126},{"t":2009.51,"v":115},{"t":2009.6,"v":104},{"t":2009.7,"v":93},{"t":2009.79,"v":60},{"t":2009.89,"v":38},{"t":2009.98,"v":27},{"t":2010.08,"v":15},{"t":2010.17,"v":4},{"t":2010.26,"v":4},{"t":2010.36,"v":15},{"t":2010.45,"v":38},{"t":2010.55,"v":82},{"t":2010.64,"v":126},{"t":2010.74,"v":137},{"t":2010.83,"v":204},{"t":2010.93,"v":314},{"t":2011.02,"v":336},{"t":2011.12,"v":336},{"t":2011.21,"v":336},{"t":2011.3,"v":325},{"t":2011.4,"v":292},{"t":2011.49,"v":237},{"t":2011.59,"v":148},{"t":2011.68,"v":93},{"t":2011.78,"v":49},{"t":2011.87,"v":33},{"t":2011.96,"v":27},{"t":2012.06,"v":33},{"t":2012.15,"v":33},{"t":2012.25,"v":27},{"t":2012.34,"v":27},{"t":2012.44,"v":15},{"t":2012.53,"v":15},{"t":2012.63,"v":71},{"t":2012.72,"v":126},{"t":2012.81,"v":159},{"t":2012.91,"v":170},{"t":2013.0,"v":175},{"t":2013.1,"v":175},{"t":2013.19,"v":175},{"t":2013.29,"v":175},{"t":2013.38,"v":181},{"t":2013.47,"v":192},{"t":2013.57,"v":204},{"t":2013.66,"v":126},{"t":2013.76,"v":82},{"t":2013.81,"v":104},{"t":2013.89,"v":204},{"t":2013.98,"v":237},{"t":2014.08,"v":259},{"t":2014.17,"v":303},{"t":2014.27,"v":369},{"t":2014.36,"v":392},{"t":2014.42,"v":436},{"t":2014.51,"v":447},{"t":2014.61,"v":491},{"t":2014.7,"v":480},{"t":2014.8,"v":447},{"t":2014.89,"v":414},{"t":2014.99,"v":392},{"t":2015.08,"v":358},{"t":2015.18,"v":325},{"t":2015.27,"v":281},{"t":2015.36,"v":248},{"t":2015.46,"v":159},{"t":2015.55,"v":159},{"t":2015.65,"v":148},{"t":2015.74,"v":170},{"t":2015.84,"v":148},{"t":2015.93,"v":104},{"t":2016.02,"v":71},{"t":2016.12,"v":49},{"t":2016.21,"v":60},{"t":2016.31,"v":60},{"t":2016.4,"v":60},{"t":2016.5,"v":71},{"t":2016.59,"v":64},{"t":2016.69,"v":71},{"t":2016.78,"v":126},{"t":2016.84,"v":237},{"t":2016.93,"v":325},{"t":2017.03,"v":336},{"t":2017.12,"v":336},{"t":2017.22,"v":336},{"t":2017.31,"v":336},{"t":2017.4,"v":332},{"t":2017.5,"v":325},{"t":2017.59,"v":332},{"t":2017.69,"v":347},{"t":2017.78,"v":347},{"t":2017.86,"v":303},{"t":2017.91,"v":192},{"t":2018.01,"v":170},{"t":2018.1,"v":166},{"t":2018.2,"v":166},{"t":2018.29,"v":166},{"t":2018.38,"v":166},{"t":2018.48,"v":170},{"t":2018.57,"v":181},{"t":2018.67,"v":215},{"t":2018.76,"v":259},{"t":2018.86,"v":292},{"t":2018.91,"v":380},{"t":2018.99,"v":524},{"t":2019.08,"v":546},{"t":2019.18,"v":546},{"t":2019.27,"v":551},{"t":2019.33,"v":557},{"t":2019.42,"v":557},{"t":2019.48,"v":584}],
"trend": [
{"p":"a","s":"fit","t":1993.0,"v":1.2},{"p":"a","s":"fit","t":2019.9,"v":1.04},
{"p":"b","s":"fit","t":1993.49,"v":1127},{"p":"b","s":"fit","t":2019.52,"v":843},
{"p":"c","s":"fit","t":1993.49,"v":1540},{"p":"c","s":"fit","t":2019.44,"v":948},
{"p":"d","s":"fit","t":1993.0,"v":0.85},{"p":"d","s":"fit","t":2019.99,"v":0.095},
{"p":"d","s":"early","t":1993.0,"v":1.04},{"p":"d","s":"early","t":2006.5,"v":0.29},
{"p":"d","s":"late","t":2006.5,"v":0.215},{"p":"d","s":"late","t":2019.99,"v":0.325},
{"p":"e","s":"fit","t":1993.47,"v":406},{"p":"e","s":"fit","t":2019.48,"v":291},
{"p":"e","s":"early","t":1993.47,"v":541},{"p":"e","s":"early","t":2006.5,"v":195},
{"p":"e","s":"late","t":2006.5,"v":187},{"p":"e","s":"late","t":2019.48,"v":437},
{"p":"f","s":"fit","t":1993.47,"v":485},{"p":"f","s":"fit","t":2019.48,"v":115},
{"p":"f","s":"early","t":1993.47,"v":653},{"p":"f","s":"early","t":2006.5,"v":144},
{"p":"f","s":"late","t":2006.5,"v":75},{"p":"f","s":"late","t":2019.48,"v":316}
]
},
"columns": 2,
"spacing": {"row": 0, "column": 69},
"bounds": "flush",
"concat": [
{"width": 477, "height": 243, "title": {"text": "Fram Strait:"},
 "layer": [
  {"data": {"name": "a"}, "mark": {"type": "line", "color": "#000", "strokeWidth": 3.2, "strokeJoin": "round"},
   "encoding": {"x": {"field": "t", "type": "quantitative", "scale": {"domain": [1993, 2020], "nice": false, "zero": false}, "axis": {"orient": "bottom", "values": [1995, 2000, 2005, 2010, 2015, 2020], "labels": false, "tickSize": -7, "title": null}},
    "y": {"field": "v", "type": "quantitative", "scale": {"domain": [0, 3], "nice": false, "zero": false}, "axis": {"orient": "left", "values": [0, 1, 2, 3], "format": "d", "tickSize": -7, "labelPadding": 15, "title": "Thickness [m]", "titlePadding": 7}}}},
  {"data": {"name": "trend"}, "transform": [{"filter": "datum.p === 'a' && datum.s === 'fit'"}], "mark": {"type": "line", "color": "#ff0000", "strokeWidth": 3.5},
   "encoding": {"x": {"field": "t", "type": "quantitative", "scale": {"domain": [1993, 2020], "nice": false, "zero": false}, "axis": {"orient": "bottom", "values": [1994,1995,1996,1997,1998,1999,2000,2001,2002,2003,2004,2005,2006,2007,2008,2009,2010,2011,2012,2013,2014,2015,2016,2017,2018,2019], "labels": false, "tickSize": -4, "title": null}},
    "y": {"field": "v", "type": "quantitative", "scale": {"domain": [0, 3], "nice": false, "zero": false}, "axis": {"orient": "right", "values": [0, 1, 2, 3], "labels": false, "tickSize": -7, "title": null}}}},
  {"data": {"values": [{}]}, "mark": {"type": "text", "align": "left", "baseline": "middle", "fontSize": 18},
   "encoding": {"x": {"datum": 1993.85, "type": "quantitative", "scale": {"domain": [1993, 2020], "nice": false, "zero": false}, "axis": {"orient": "top", "values": [1995, 2000, 2005, 2010, 2015, 2020], "labels": false, "tickSize": -7, "title": null}},
    "y": {"datum": 2.57, "type": "quantitative", "scale": {"domain": [0, 3], "nice": false, "zero": false}, "axis": null}, "text": {"value": "a)"}}}
 ],
 "resolve": {"axis": {"x": "independent", "y": "independent"}}},
{"width": 477, "height": 243, "title": {"text": "Barents Sea:"},
 "layer": [
  {"data": {"name": "d"}, "mark": {"type": "line", "color": "#000", "strokeWidth": 3.2, "strokeJoin": "round"},
   "encoding": {"x": {"field": "t", "type": "quantitative", "scale": {"domain": [1993, 2020], "nice": false, "zero": false}, "axis": {"orient": "bottom", "values": [1995, 2000, 2005, 2010, 2015, 2020], "labels": false, "tickSize": -7, "title": null}},
    "y": {"field": "v", "type": "quantitative", "scale": {"domain": [0, 2], "nice": false, "zero": false}, "axis": {"orient": "left", "values": [0, 1, 2], "format": "d", "tickSize": -7, "labelPadding": 15, "title": null}}}},
  {"data": {"name": "trend"}, "transform": [{"filter": "datum.p === 'd' && datum.s === 'fit'"}], "mark": {"type": "line", "color": "#ff0000", "strokeWidth": 3.5},
   "encoding": {"x": {"field": "t", "type": "quantitative", "scale": {"domain": [1993, 2020], "nice": false, "zero": false}, "axis": {"orient": "bottom", "values": [1994,1995,1996,1997,1998,1999,2000,2001,2002,2003,2004,2005,2006,2007,2008,2009,2010,2011,2012,2013,2014,2015,2016,2017,2018,2019], "labels": false, "tickSize": -4, "title": null}},
    "y": {"field": "v", "type": "quantitative", "scale": {"domain": [0, 2], "nice": false, "zero": false}, "axis": {"orient": "right", "values": [0, 1, 2], "labels": false, "tickSize": -7, "title": null}}}},
  {"data": {"name": "trend"}, "transform": [{"filter": "datum.p === 'd' && datum.s !== 'fit'"}], "mark": {"type": "line", "color": "#ff0000", "strokeWidth": 1.3, "strokeDash": [12, 8]},
   "encoding": {"x": {"field": "t", "type": "quantitative", "scale": {"domain": [1993, 2020], "nice": false, "zero": false}, "axis": null},
    "y": {"field": "v", "type": "quantitative", "scale": {"domain": [0, 2], "nice": false, "zero": false}, "axis": null}, "detail": {"field": "s"}}},
  {"data": {"values": [{}]}, "mark": {"type": "text", "align": "left", "baseline": "middle", "fontSize": 18},
   "encoding": {"x": {"datum": 1993.81, "type": "quantitative", "scale": {"domain": [1993, 2020], "nice": false, "zero": false}, "axis": {"orient": "top", "values": [1995, 2000, 2005, 2010, 2015, 2020], "labels": false, "tickSize": -7, "title": null}},
    "y": {"datum": 1.73, "type": "quantitative", "scale": {"domain": [0, 2], "nice": false, "zero": false}, "axis": null}, "text": {"value": "d)"}}}
 ],
 "resolve": {"axis": {"x": "independent", "y": "independent"}}},
{"width": 477, "height": 243,
 "layer": [
  {"data": {"name": "b"}, "mark": {"type": "line", "color": "#000", "strokeWidth": 3.2, "strokeJoin": "round"},
   "encoding": {"x": {"field": "t", "type": "quantitative", "scale": {"domain": [1993, 2020], "nice": false, "zero": false}, "axis": {"orient": "bottom", "values": [1995, 2000, 2005, 2010, 2015, 2020], "labels": false, "tickSize": -7, "title": null}},
    "y": {"field": "v", "type": "quantitative", "scale": {"domain": [400, 1600], "nice": false, "zero": false}, "axis": {"orient": "left", "values": [500, 1000, 1500], "format": "d", "tickSize": -7, "labelPadding": 15, "title": "Area [km²x10³/year]", "titlePadding": 22}}}},
  {"data": {"name": "trend"}, "transform": [{"filter": "datum.p === 'b' && datum.s === 'fit'"}], "mark": {"type": "line", "color": "#ff0000", "strokeWidth": 3.5},
   "encoding": {"x": {"field": "t", "type": "quantitative", "scale": {"domain": [1993, 2020], "nice": false, "zero": false}, "axis": {"orient": "bottom", "values": [1994,1995,1996,1997,1998,1999,2000,2001,2002,2003,2004,2005,2006,2007,2008,2009,2010,2011,2012,2013,2014,2015,2016,2017,2018,2019], "labels": false, "tickSize": -4, "title": null}},
    "y": {"field": "v", "type": "quantitative", "scale": {"domain": [400, 1600], "nice": false, "zero": false}, "axis": {"orient": "right", "values": [500, 1000, 1500], "labels": false, "tickSize": -7, "title": null}}}},
  {"data": {"values": [{}]}, "mark": {"type": "text", "align": "left", "baseline": "middle", "fontSize": 18},
   "encoding": {"x": {"datum": 1993.85, "type": "quantitative", "scale": {"domain": [1993, 2020], "nice": false, "zero": false}, "axis": {"orient": "top", "values": [1995, 2000, 2005, 2010, 2015, 2020], "labels": false, "tickSize": -7, "title": null}},
    "y": {"datum": 1433, "type": "quantitative", "scale": {"domain": [400, 1600], "nice": false, "zero": false}, "axis": null}, "text": {"value": "b)"}}}
 ],
 "resolve": {"axis": {"x": "independent", "y": "independent"}}},
{"width": 477, "height": 243,
 "layer": [
  {"data": {"name": "e"}, "mark": {"type": "line", "color": "#000", "strokeWidth": 3.2, "strokeJoin": "round"},
   "encoding": {"x": {"field": "t", "type": "quantitative", "scale": {"domain": [1993, 2020], "nice": false, "zero": false}, "axis": {"orient": "bottom", "values": [1995, 2000, 2005, 2010, 2015, 2020], "labels": false, "tickSize": -7, "title": null}},
    "y": {"field": "v", "type": "quantitative", "scale": {"domain": [-246, 1100], "nice": false, "zero": false}, "axis": {"orient": "left", "values": [0, 500, 1000], "format": "d", "tickSize": -7, "labelPadding": 15, "title": null}}}},
  {"data": {"name": "trend"}, "transform": [{"filter": "datum.p === 'e' && datum.s === 'fit'"}], "mark": {"type": "line", "color": "#ff0000", "strokeWidth": 3.5},
   "encoding": {"x": {"field": "t", "type": "quantitative", "scale": {"domain": [1993, 2020], "nice": false, "zero": false}, "axis": {"orient": "bottom", "values": [1994,1995,1996,1997,1998,1999,2000,2001,2002,2003,2004,2005,2006,2007,2008,2009,2010,2011,2012,2013,2014,2015,2016,2017,2018,2019], "labels": false, "tickSize": -4, "title": null}},
    "y": {"field": "v", "type": "quantitative", "scale": {"domain": [-246, 1100], "nice": false, "zero": false}, "axis": {"orient": "right", "values": [0, 500, 1000], "labels": false, "tickSize": -7, "title": null}}}},
  {"data": {"name": "trend"}, "transform": [{"filter": "datum.p === 'e' && datum.s !== 'fit'"}], "mark": {"type": "line", "color": "#ff0000", "strokeWidth": 1.3, "strokeDash": [12, 8]},
   "encoding": {"x": {"field": "t", "type": "quantitative", "scale": {"domain": [1993, 2020], "nice": false, "zero": false}, "axis": null},
    "y": {"field": "v", "type": "quantitative", "scale": {"domain": [-246, 1100], "nice": false, "zero": false}, "axis": null}, "detail": {"field": "s"}}},
  {"data": {"values": [{}]}, "mark": {"type": "text", "align": "left", "baseline": "middle", "fontSize": 18},
   "encoding": {"x": {"datum": 1993.81, "type": "quantitative", "scale": {"domain": [1993, 2020], "nice": false, "zero": false}, "axis": {"orient": "top", "values": [1995, 2000, 2005, 2010, 2015, 2020], "labels": false, "tickSize": -7, "title": null}},
    "y": {"datum": 911, "type": "quantitative", "scale": {"domain": [-246, 1100], "nice": false, "zero": false}, "axis": null}, "text": {"value": "e)"}}}
 ],
 "resolve": {"axis": {"x": "independent", "y": "independent"}}},
{"width": 477, "height": 243,
 "layer": [
  {"data": {"name": "c"}, "mark": {"type": "line", "color": "#000", "strokeWidth": 3.2, "strokeJoin": "round"},
   "encoding": {"x": {"field": "t", "type": "quantitative", "scale": {"domain": [1993, 2020], "nice": false, "zero": false}, "axis": {"orient": "bottom", "values": [1995, 2000, 2005, 2010, 2015, 2020], "format": "d", "labelFlush": false, "tickSize": -7, "labelPadding": 19, "title": null}},
    "y": {"field": "v", "type": "quantitative", "scale": {"domain": [394, 2606], "nice": false, "zero": false}, "axis": {"orient": "left", "values": [500, 1000, 1500, 2000, 2500], "format": "d", "tickSize": -7, "labelPadding": 15, "title": "Vol [km³/year]", "titlePadding": 22}}}},
  {"data": {"name": "trend"}, "transform": [{"filter": "datum.p === 'c' && datum.s === 'fit'"}], "mark": {"type": "line", "color": "#ff0000", "strokeWidth": 3.5},
   "encoding": {"x": {"field": "t", "type": "quantitative", "scale": {"domain": [1993, 2020], "nice": false, "zero": false}, "axis": {"orient": "bottom", "values": [1994,1995,1996,1997,1998,1999,2000,2001,2002,2003,2004,2005,2006,2007,2008,2009,2010,2011,2012,2013,2014,2015,2016,2017,2018,2019], "labels": false, "tickSize": -4, "title": null}},
    "y": {"field": "v", "type": "quantitative", "scale": {"domain": [394, 2606], "nice": false, "zero": false}, "axis": {"orient": "right", "values": [500, 1000, 1500, 2000, 2500], "labels": false, "tickSize": -7, "title": null}}}},
  {"data": {"values": [{}]}, "mark": {"type": "text", "align": "left", "baseline": "middle", "fontSize": 18},
   "encoding": {"x": {"datum": 1993.85, "type": "quantitative", "scale": {"domain": [1993, 2020], "nice": false, "zero": false}, "axis": {"orient": "top", "values": [1995, 2000, 2005, 2010, 2015, 2020], "labels": false, "tickSize": -7, "title": null}},
    "y": {"datum": 2297, "type": "quantitative", "scale": {"domain": [394, 2606], "nice": false, "zero": false}, "axis": null}, "text": {"value": "c)"}}}
 ],
 "resolve": {"axis": {"x": "independent", "y": "independent"}}},
{"width": 477, "height": 243,
 "layer": [
  {"data": {"name": "f"}, "mark": {"type": "line", "color": "#000", "strokeWidth": 3.2, "strokeJoin": "round"},
   "encoding": {"x": {"field": "t", "type": "quantitative", "scale": {"domain": [1993, 2020], "nice": false, "zero": false}, "axis": {"orient": "bottom", "values": [1995, 2000, 2005, 2010, 2015, 2020], "format": "d", "labelFlush": false, "tickSize": -7, "labelPadding": 19, "title": null}},
    "y": {"field": "v", "type": "quantitative", "scale": {"domain": [-206, 1409], "nice": false, "zero": false}, "axis": {"orient": "left", "values": [0, 500, 1000], "format": "d", "tickSize": -7, "labelPadding": 15, "title": null}}}},
  {"data": {"name": "trend"}, "transform": [{"filter": "datum.p === 'f' && datum.s === 'fit'"}], "mark": {"type": "line", "color": "#ff0000", "strokeWidth": 3.5},
   "encoding": {"x": {"field": "t", "type": "quantitative", "scale": {"domain": [1993, 2020], "nice": false, "zero": false}, "axis": {"orient": "bottom", "values": [1994,1995,1996,1997,1998,1999,2000,2001,2002,2003,2004,2005,2006,2007,2008,2009,2010,2011,2012,2013,2014,2015,2016,2017,2018,2019], "labels": false, "tickSize": -4, "title": null}},
    "y": {"field": "v", "type": "quantitative", "scale": {"domain": [-206, 1409], "nice": false, "zero": false}, "axis": {"orient": "right", "values": [0, 500, 1000], "labels": false, "tickSize": -7, "title": null}}}},
  {"data": {"name": "trend"}, "transform": [{"filter": "datum.p === 'f' && datum.s !== 'fit'"}], "mark": {"type": "line", "color": "#ff0000", "strokeWidth": 1.3, "strokeDash": [12, 8]},
   "encoding": {"x": {"field": "t", "type": "quantitative", "scale": {"domain": [1993, 2020], "nice": false, "zero": false}, "axis": null},
    "y": {"field": "v", "type": "quantitative", "scale": {"domain": [-206, 1409], "nice": false, "zero": false}, "axis": null}, "detail": {"field": "s"}}},
  {"data": {"values": [{}]}, "mark": {"type": "text", "align": "left", "baseline": "middle", "fontSize": 18},
   "encoding": {"x": {"datum": 1993.81, "type": "quantitative", "scale": {"domain": [1993, 2020], "nice": false, "zero": false}, "axis": {"orient": "top", "values": [1995, 2000, 2005, 2010, 2015, 2020], "labels": false, "tickSize": -7, "title": null}},
    "y": {"datum": 1177, "type": "quantitative", "scale": {"domain": [-206, 1409], "nice": false, "zero": false}, "axis": null}, "text": {"value": "f)"}}}
 ],
 "resolve": {"axis": {"x": "independent", "y": "independent"}}}
]
}
